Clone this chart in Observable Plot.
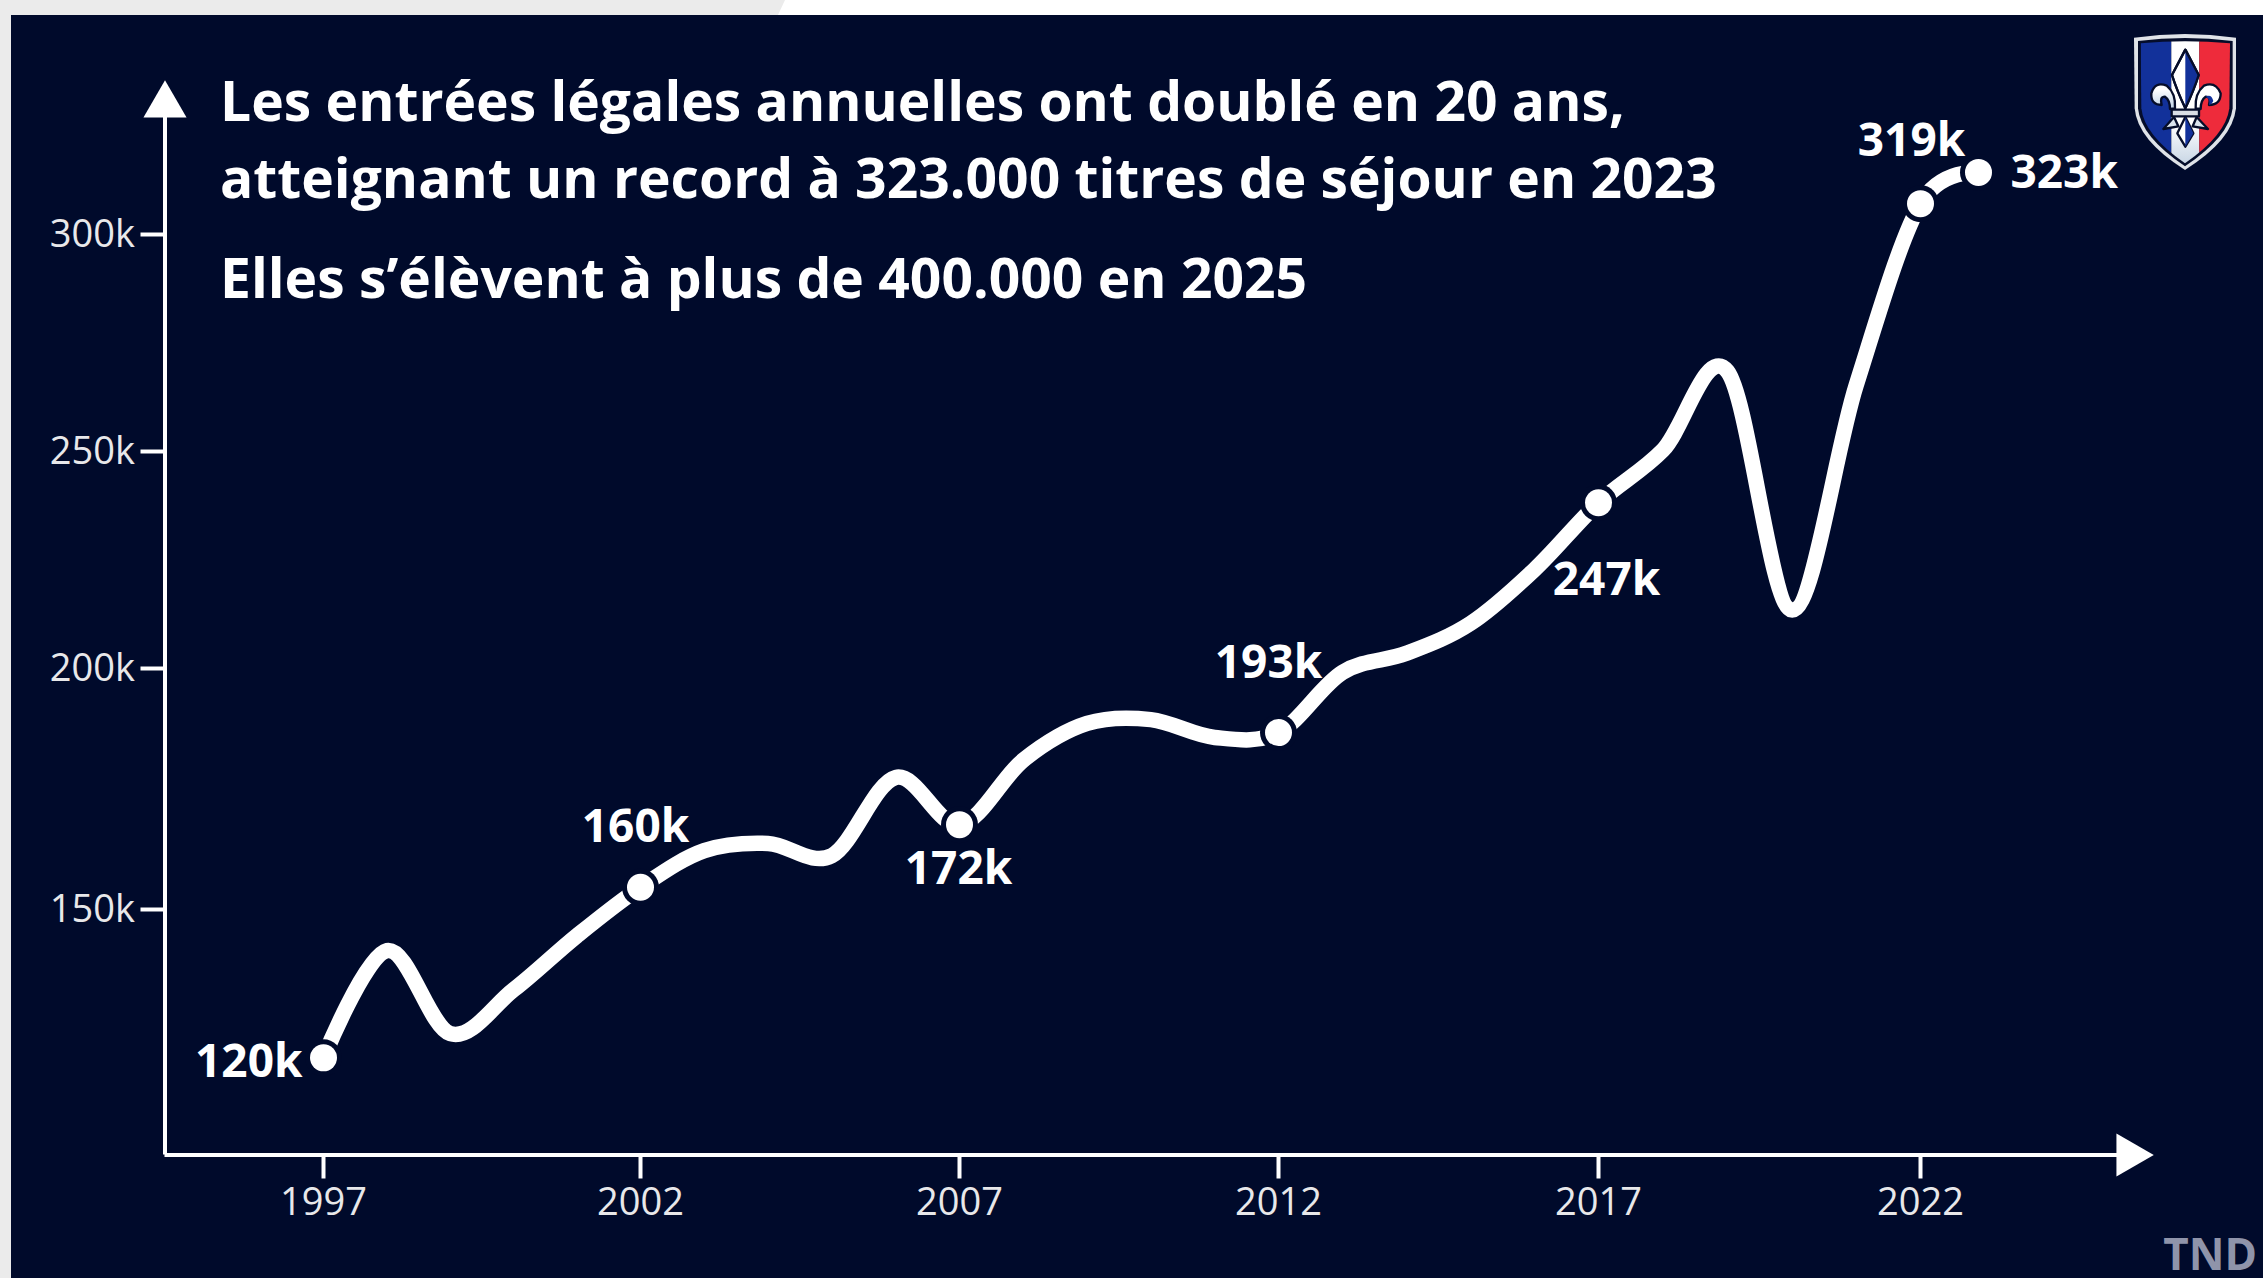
<!DOCTYPE html>
<html lang="fr">
<head>
<meta charset="utf-8">
<script src="https://cdn.jsdelivr.net/npm/d3@7"></script>
<script src="https://cdn.jsdelivr.net/npm/@observablehq/plot@0.6"></script>
<style>
html,body{margin:0;padding:0;background:#fff;width:2263px;height:1278px;overflow:hidden}
#strip{position:absolute;left:0;top:0;width:800px;height:15px;background:#ebebeb;clip-path:polygon(0 0,785px 0,778px 15px,0 15px)}
#edge{position:absolute;left:0;top:0;width:11px;height:1278px;background:#ebebeb}
#panel{position:absolute;left:11px;top:15px;width:2252px;height:1263px;background:#000a2b}
#chart{position:absolute;left:0;top:0}
.t{position:absolute;left:220px;color:#fff;font:700 55.2px "Open Sans",sans-serif;white-space:nowrap;line-height:60px}
#tnd{position:absolute;right:6px;top:1230px;color:#8f94aa;font:700 44px "Open Sans",sans-serif;line-height:46px}
#logo{position:absolute;left:2120px;top:25px}
</style>
</head>
<body>
<div id="strip"></div><div id="edge"></div><div id="panel"></div>
<div id="chart"></div>
<div class="t" style="top:70px">Les entrées légales annuelles ont doublé en 20 ans,</div>
<div class="t" style="top:147px">atteignant un record à 323.000 titres de séjour en 2023</div>
<div class="t" style="top:247px">Elles s’élèvent à plus de 400.000 en 2025</div>
<div id="tnd">TND</div>
<svg id="logo" width="143" height="155" viewBox="0 0 429 465">
  <defs>
    <clipPath id="sh"><path d="M62,55 Q195,42 330,55 L328,250 Q318,330 195,415 Q72,330 64,250 Z"/></clipPath>
    <linearGradient id="wg" x1="0" y1="0" x2="0" y2="1"><stop offset="0.65" stop-color="#fff"/><stop offset="1" stop-color="#c3d2e2"/></linearGradient>
    <linearGradient id="pg" x1="0" y1="0" x2="0" y2="1"><stop offset="0.2" stop-color="#fff"/><stop offset="1" stop-color="#bcd0e4"/></linearGradient>
  </defs>
  <path d="M42,38 Q195,16 348,38 L348,250 Q338,345 195,435 Q52,345 44,250 Z" fill="#dfe3e8"/>
  <path d="M54,48 Q195,30 338,48 L338,250 Q328,335 195,424 Q62,335 54,250 Z" fill="#050d2a"/>
  <g clip-path="url(#sh)">
    <rect x="55" y="40" width="99" height="390" fill="#12319a"/>
    <rect x="154" y="40" width="84" height="390" fill="url(#wg)"/>
    <rect x="238" y="40" width="95" height="390" fill="#ee2b3b"/>
  </g>
  <g stroke="#050d2a" stroke-width="7" stroke-linejoin="round">
    <path d="M196,74 L236,150 Q222,195 196,250 Q170,195 156,150 Z" fill="#fff"/>
    <path d="M196,74 L236,150 Q222,195 196,250 Z" fill="#12319a" stroke="none"/>
    <path d="M196,74 L236,150 Q222,195 196,250 Q170,195 156,150 Z" fill="none"/>
    <path d="M165,250 Q168,205 140,182 Q105,168 94,205 Q92,240 125,240 Q118,215 135,215 Q150,225 150,252 Z" fill="url(#pg)"/>
    <path d="M227,250 Q224,205 252,182 Q287,168 302,205 Q302,240 267,240 Q274,215 257,215 Q242,225 242,252 Z" fill="#fff"/>
    <path d="M257,215 Q274,205 280,228 Q276,238 267,240 Q272,222 257,215 Z" fill="#12319a" stroke="none"/>
    <rect x="155" y="254" width="82" height="20" fill="#d9dee5"/>
    <path d="M196,276 L220,325 L196,365 L172,325 Z" fill="#fff"/>
    <path d="M196,276 L220,325 L196,365 Z" fill="#12319a" stroke="none"/>
    <path d="M162,276 L130,312 L175,304 Z" fill="#dbe4ee"/>
    <path d="M230,276 L264,312 L218,304 Z" fill="#dbe4ee"/>
  </g>
</svg>
<script>
const years = [1997,1998,1999,2000,2001,2002,2003,2004,2005,2006,2007,2008,2009,2010,2011,2012,2013,2014,2015,2016,2017,2018,2019,2020,2021,2022,2023];
const titres = [119300,141500,124300,133400,144600,154600,162200,163700,161200,177400,167600,181000,188600,189400,185700,186700,199200,203500,210400,222800,238200,250300,268500,213500,265200,307100,314300];
const labelledYears = [1997,2002,2007,2012,2017,2022,2023];
const labelTexts = ["120k","160k","172k","193k","247k","319k","323k"];
const labelAnchors = ["end","middle","middle","middle","middle","middle","start"];
const labelDx = [-21,-5,-1,-10,8,-9,32];
const labelDy = [4,-60,45,-69,78,-62,1];
const xTicks = [1997,2002,2007,2012,2017,2022];
const yTicks = [150000,200000,250000,300000];
const xAxisStart = 1994.5, xAxisEnd = 2025.72;
const yAxisStart = 99200, yAxisEnd = 329800;

const rows = years.map((year,i)=>({year,value:titres[i]}));
const valueOf = y => titres[years.indexOf(y)];
const labels = labelledYears.map((year,i)=>({year,value:valueOf(year),text:labelTexts[i],anchor:labelAnchors[i],dx:labelDx[i],dy:labelDy[i]}));
const labelMark = l => Plot.text([l],{x:"year",y:"value",text:"text",textAnchor:l.anchor,dx:l.dx,dy:l.dy,fill:"#fff",fontSize:46,fontWeight:700,lineAnchor:"middle"});

const bg = "#000a2b";
const chart = Plot.plot({
  width:2263,height:1278,
  marginLeft:164.5,marginRight:134.6,marginTop:104.6,marginBottom:123.5,
  style:{background:"transparent",fontFamily:"'Open Sans',sans-serif",overflow:"visible"},
  x:{type:"linear",domain:[xAxisStart,1997,2002,2007,2012,2017,2022,2023,xAxisEnd],range:[164.5,323,640,959,1278,1598,1920,1978,2128.4]},
  y:{type:"linear",domain:[yAxisStart,150000,200000,250000,300000,yAxisEnd],range:[1154.5,909,668,451,234,104.6]},
  marks:[
    Plot.ruleX([xAxisStart],{y1:yAxisStart,y2:yAxisEnd,stroke:"#fff",strokeWidth:4}),
    Plot.ruleY([yAxisStart],{x1:xAxisStart,x2:xAxisEnd,stroke:"#fff",strokeWidth:4}),
    Plot.dot([{x:xAxisStart,y:yAxisEnd}],{x:"x",y:"y",symbol:"triangle",r:16,fill:"#fff"}),
    Plot.dot([{x:xAxisEnd,y:yAxisStart}],{x:"x",y:"y",symbol:"triangle",r:16,fill:"#fff",rotate:90}),
    Plot.axisX({anchor:"bottom",ticks:xTicks,tickFormat:d=>String(d),tickSize:24,tickPadding:9,fontSize:38,stroke:"#fff",strokeWidth:4,color:"#e8e8ea",label:null,strokeOpacity:1}),
    Plot.axisY({anchor:"left",ticks:yTicks,tickFormat:d=>d/1000+"k",tickSize:24,tickPadding:6,fontSize:38,stroke:"#fff",strokeWidth:4,color:"#e8e8ea",label:null,strokeOpacity:1}),
    Plot.line(rows,{x:"year",y:"value",stroke:"#fff",strokeWidth:15.5,curve:"cardinal",tension:0,strokeLinecap:"butt",strokeLinejoin:"round"}),
    Plot.dot(labels,{x:"year",y:"value",r:18.5,fill:bg}),
    Plot.dot(labels,{x:"year",y:"value",r:13.5,fill:"#fff"}),
    ...labels.map(labelMark)
  ]
});
document.getElementById("chart").appendChild(chart);
</script>
</body>
</html>
